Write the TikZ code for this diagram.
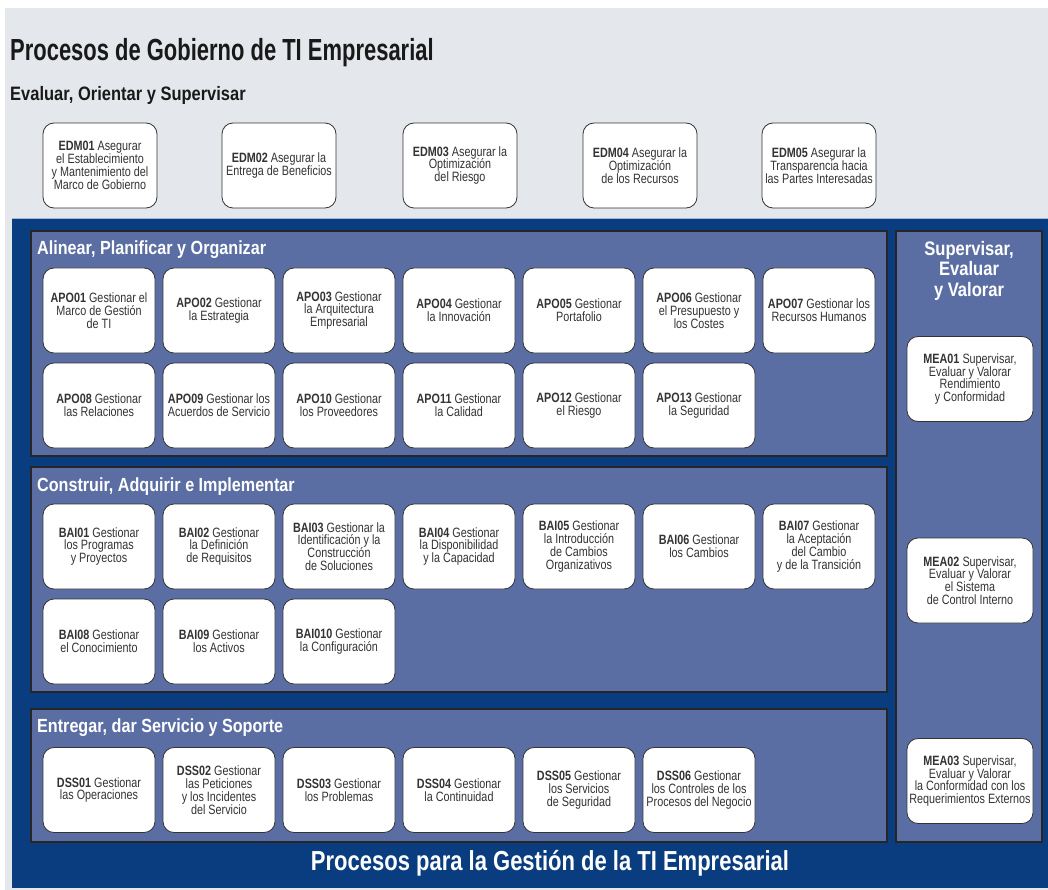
\documentclass[tikz,border=0pt]{standalone}
\usepackage{fontspec}
\setmainfont{Liberation Sans}[FakeStretch=0.8]
\newfontfamily\headfont{Liberation Sans}[FakeStretch=0.85]
\newfontfamily\bigheadfont{Liberation Sans}[FakeStretch=0.72]
\usepackage{xcolor}
\definecolor{govgray}{HTML}{E4E7EB}
\definecolor{mgmtblue}{HTML}{0A3D80}
\definecolor{panelblue}{HTML}{5B6EA4}
\definecolor{edgeblue}{HTML}{9DB8DA}

\begin{document}
\begin{tikzpicture}[x=1pt,y=-1pt,
  proc/.style={draw=black!80, line width=0.8pt, fill=white, rounded corners=11pt,
    minimum width=112pt, minimum height=85pt, inner sep=1pt, align=center,
    text=black!80, font=\fontsize{13.5}{12.8}\selectfont},
  meaproc/.style={proc, minimum width=126pt},
  panel/.style={draw=black!85, line width=1.1pt, fill=panelblue},
  paneltitle/.style={text=white, anchor=base west, inner sep=0pt,
    font=\headfont\fontsize{19}{19}\selectfont\bfseries}]

  % Background areas and fixed size
  \useasboundingbox (0,0) rectangle (1048,890);
  \fill[white] (0,0) rectangle (1048,890);
  \fill[govgray] (5,8) rectangle (1048,890);
  \fill[mgmtblue] (12,218) rectangle (1048,888);
  \draw[edgeblue, line width=1pt] (12,218.5) -- (1048,218.5);

  % Governance part
  \node[anchor=base west, inner sep=0pt, text=black!90,
    font=\bigheadfont\fontsize{30.5}{30.5}\selectfont\bfseries] (govtitle) at (10,61)
    {Procesos de Gobierno de TI Empresarial};
  \node[anchor=base west, inner sep=0pt, text=black!90,
    font=\headfont\fontsize{19.4}{19.4}\selectfont\bfseries] (edmtitle) at (10,101)
    {Evaluar, Orientar y Supervisar};

  \node[proc, minimum width=114pt] (edm01) at (100,165.5)
    {\textbf{EDM01} Asegurar\\el Establecimiento\\y Mantenimiento del\\Marco de Gobierno};
  \node[proc, minimum width=114pt] (edm02) at (279,165.5)
    {\textbf{EDM02} Asegurar la\\Entrega de Beneficios};
  \node[proc, minimum width=114pt] (edm03) at (460,165.5)
    {\textbf{EDM03} Asegurar la\\Optimización\\del Riesgo};
  \node[proc, minimum width=114pt] (edm04) at (640,165.5)
    {\textbf{EDM04} Asegurar la\\Optimización\\de los Recursos};
  \node[proc, minimum width=114pt] (edm05) at (819,165.5)
    {\textbf{EDM05} Asegurar la\\Transparencia hacia\\las Partes Interesadas};

  % Management panels
  \draw[panel] (31,231) rectangle (887,456);
  \draw[panel] (31,467) rectangle (887,692);
  \draw[panel] (31,709) rectangle (887,842);
  \draw[panel] (896,231) rectangle (1042,842);

  % Alinear, Planificar y Organizar
  \node[paneltitle] (apotitle) at (37,255) {Alinear, Planificar y Organizar};
  \node[proc] (apo01) at (99,310.5) {\textbf{APO01} Gestionar el\\Marco de Gestión\\de TI};
  \node[proc] (apo02) at (219,310.5) {\textbf{APO02} Gestionar\\la Estrategia};
  \node[proc] (apo03) at (339,310.5) {\textbf{APO03} Gestionar\\la Arquitectura\\Empresarial};
  \node[proc] (apo04) at (459,310.5) {\textbf{APO04} Gestionar\\la Innovación};
  \node[proc] (apo05) at (579,310.5) {\textbf{APO05} Gestionar\\Portafolio};
  \node[proc] (apo06) at (699,310.5) {\textbf{APO06} Gestionar\\el Presupuesto y\\los Costes};
  \node[proc] (apo07) at (819,310.5) {\textbf{APO07} Gestionar los\\Recursos Humanos};
  \node[proc] (apo08) at (99,405.5) {\textbf{APO08} Gestionar\\las Relaciones};
  \node[proc] (apo09) at (219,405.5) {\textbf{APO09} Gestionar los\\Acuerdos de Servicio};
  \node[proc] (apo10) at (339,405.5) {\textbf{APO10} Gestionar\\los Proveedores};
  \node[proc] (apo11) at (459,405.5) {\textbf{APO11} Gestionar\\la Calidad};
  \node[proc] (apo12) at (579,405.5) {\textbf{APO12} Gestionar\\el Riesgo};
  \node[proc] (apo13) at (699,405.5) {\textbf{APO13} Gestionar\\la Seguridad};

  % Construir, Adquirir e Implementar
  \node[paneltitle] (baititle) at (37,491) {Construir, Adquirir e Implementar};
  \node[proc] (bai01) at (99,546.5) {\textbf{BAI01} Gestionar\\los Programas\\y Proyectos};
  \node[proc] (bai02) at (219,546.5) {\textbf{BAI02} Gestionar\\la Definición\\de Requisitos};
  \node[proc] (bai03) at (339,546.5) {\textbf{BAI03} Gestionar la\\Identificación y la\\Construcción\\de Soluciones};
  \node[proc] (bai04) at (459,546.5) {\textbf{BAI04} Gestionar\\la Disponibilidad\\y la Capacidad};
  \node[proc] (bai05) at (579,546.5) {\textbf{BAI05} Gestionar\\la Introducción\\de Cambios\\Organizativos};
  \node[proc] (bai06) at (699,546.5) {\textbf{BAI06} Gestionar\\los Cambios};
  \node[proc] (bai07) at (819,546.5) {\textbf{BAI07} Gestionar\\la Aceptación\\del Cambio\\y de la Transición};
  \node[proc] (bai08) at (99,641.5) {\textbf{BAI08} Gestionar\\el Conocimiento};
  \node[proc] (bai09) at (219,641.5) {\textbf{BAI09} Gestionar\\los Activos};
  \node[proc] (bai10) at (339,641.5) {\textbf{BAI010} Gestionar\\la Configuración};

  % Entregar, dar Servicio y Soporte
  \node[paneltitle] (dsstitle) at (37,732) {Entregar, dar Servicio y Soporte};
  \node[proc] (dss01) at (99,790) {\textbf{DSS01} Gestionar\\las Operaciones};
  \node[proc] (dss02) at (219,790) {\textbf{DSS02} Gestionar\\las Peticiones\\y los Incidentes\\del Servicio};
  \node[proc] (dss03) at (339,790) {\textbf{DSS03} Gestionar\\los Problemas};
  \node[proc] (dss04) at (459,790) {\textbf{DSS04} Gestionar\\la Continuidad};
  \node[proc] (dss05) at (579,790) {\textbf{DSS05} Gestionar\\los Servicios\\de Seguridad};
  \node[proc] (dss06) at (699,790) {\textbf{DSS06} Gestionar\\los Controles de los\\Procesos del Negocio};

  % Supervisar, Evaluar y Valorar
  \node[paneltitle, anchor=north, align=center,
    font=\headfont\fontsize{19.5}{20.5}\selectfont\bfseries] (meatitle) at (969,241)
    {Supervisar,\\Evaluar\\y Valorar};
  \node[meaproc] (mea01) at (970,379) {\textbf{MEA01} Supervisar,\\Evaluar y Valorar\\Rendimiento\\y Conformidad};
  \node[meaproc] (mea02) at (970,580.5) {\textbf{MEA02} Supervisar,\\Evaluar y Valorar\\el Sistema\\de Control Interno};
  \node[meaproc] (mea03) at (970,781) {\textbf{MEA03} Supervisar,\\Evaluar y Valorar\\la Conformidad con los\\Requerimientos Externos};

  \node[anchor=base, inner sep=0pt, text=white,
    font=\fontsize{27.5}{27.5}\selectfont\bfseries] (mgmttitle) at (550,870)
    {Procesos para la Gestión de la TI Empresarial};
\end{tikzpicture}
\end{document}
